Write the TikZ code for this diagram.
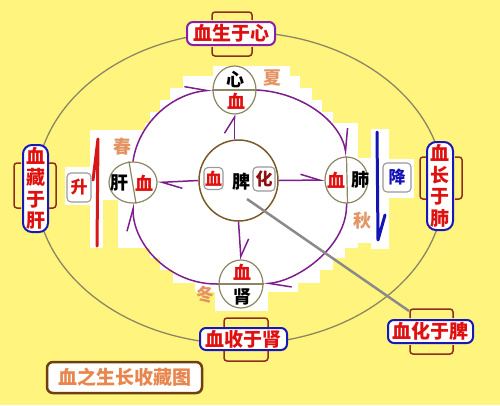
\documentclass[tikz,border=0pt]{standalone}
\usepackage{fontspec}
\newfontfamily\cjk{Noto Sans CJK SC}
\usetikzlibrary{arrows.meta,shapes.geometric,calc}
\definecolor{bgy}{HTML}{FFF57E}
\definecolor{xred}{HTML}{E01010}
\definecolor{pur}{HTML}{7E1E8E}
\definecolor{olive}{HTML}{8C8662}
\definecolor{season}{HTML}{E39462}
\definecolor{brk}{HTML}{8E2E1E}
\definecolor{bblue}{HTML}{1818B8}
\definecolor{bpur}{HTML}{8A20A8}
\definecolor{ttl}{HTML}{E8864E}
\definecolor{ttlb}{HTML}{6E4010}
\definecolor{huac}{HTML}{8E1010}
\definecolor{spl}{HTML}{7A5A2A}
\definecolor{gline}{HTML}{8A8A8A}
\definecolor{rarrow}{HTML}{D81818}
\definecolor{barrow}{HTML}{1414B4}
\begin{document}
\begin{tikzpicture}[x=1pt,y=-1pt,
  big/.style={font=\cjk\bfseries\fontsize{19}{21.5}\selectfont, text=xred},
  mid/.style={font=\cjk\bfseries\fontsize{18}{20}\selectfont, inner sep=0pt},
  sml/.style={font=\cjk\bfseries\fontsize{17}{19}\selectfont, inner sep=0pt},
  hb/.style={big, draw=bblue, line width=2pt, fill=white, rounded corners=6pt, inner sep=0pt},
  vb/.style={hb, rounded corners=9pt, align=center},
  gb/.style={sml, draw=gray!80, line width=1.1pt, fill=white, rounded corners=4pt},
  brkt/.style={draw=brk, line width=1.5pt, rounded corners=3pt},
  organ/.style={ellipse, draw=olive, line width=1.2pt, fill=white, inner sep=0pt},
  divl/.style={draw=olive, line width=1.2pt},
  conn/.style={draw=pur, line width=1.5pt},
  arr/.style 2 args={-{Straight Barb[left,length=#1,width=#2]}},
  seas/.style={mid, text=season},
  thick arrow/.style={line width=3pt, line cap=round, line join=round}
]
\useasboundingbox (0,0) rectangle (500,405);
\fill[bgy] (0,0) rectangle (500,405);
% white stepped region
\fill[white] (213,66) rectangle (290,76);
\fill[white] (183,76) rectangle (300,88);
\fill[white] (170,88) rectangle (312,100);
\fill[white] (160,100) rectangle (322,112);
\fill[white] (150,112) rectangle (333,123);
\fill[white] (145,123) rectangle (358,130);
\fill[white] (90,130) rectangle (358,200);
\fill[white] (65,167) rectangle (90,205);
\fill[white] (90,200) rectangle (103,248);
\fill[white] (118,200) rectangle (358,248);
\fill[white] (358,158) rectangle (372,243);
\fill[white] (371,129) rectangle (389,249);
\fill[white] (386,159) rectangle (414,198);
\fill[white] (150,248) rectangle (345,258);
\fill[white] (160,258) rectangle (333,270);
\fill[white] (173,270) rectangle (320,283);
\fill[white] (195,283) rectangle (298,292);
\fill[white] (215,292) rectangle (268,311);
% outer ellipse
\draw[olive, line width=1.3pt] (240,188) ellipse [x radius=204pt, y radius=156pt];
% organ circles
\node[organ, minimum width=43pt, minimum height=48pt] (xin) at (234.5,90) {};
\node[organ, minimum width=48pt, minimum height=41pt] (gan) at (133,182.5) {};
\node[organ, minimum width=43pt, minimum height=46pt] (fei) at (346.5,180) {};
\node[organ, minimum width=44pt, minimum height=48pt] (shen) at (241,284) {};
\node[organ, draw=spl, line width=1.5pt, minimum width=79pt, minimum height=81pt] (pi) at (238.5,180.5) {};
% dividing lines
\draw[divl] (xin.west) -- (xin.east);
\draw[divl] (shen.west) -- (shen.east);
\draw[divl] ($(gan.north)+(-4,0)$) -- ($(gan.south)+(3,0)$);
\draw[divl] (fei.north) -- ($(fei.south)+(1,0)$);
% organ texts
\node[mid] (t-xin) at (235,79.5) {心};
\node[mid, text=xred] (t-xinx) at (236,101.5) {血};
\node[mid] (t-gan) at (119,183) {肝};
\node[mid, text=xred] (t-ganx) at (144.5,183) {血};
\node[mid, text=xred] (t-feix) at (336,180) {血};
\node[mid] (t-fei) at (360,180) {肺};
\node[mid, text=xred] (t-shenx) at (242,272) {血};
\node[mid] (t-shen) at (242,296.5) {肾};
\node[gb, text=xred, minimum width=19pt, minimum height=22pt] (pix) at (213.5,178.5) {血};
\node[mid] (t-pi) at (241,182) {脾};
\node[gb, text=huac, minimum width=22pt, minimum height=24pt] (pihua) at (264,179) {化};
% seasons
\node[seas] (xia) at (272,78) {夏};
\node[seas] (chun) at (122,147) {春};
\node[seas] (qiu) at (362,221) {秋};
\node[seas] (dong) at (205,295) {冬};
% cycle connectors
\draw[conn, arr={22pt}{12pt}] (gan.north) .. controls (138,125) and (170,94) .. (xin.west);
\draw[conn, arr={22pt}{12pt}] (xin.east) .. controls (300,92) and (340,120) .. (fei.north);
\draw[conn, arr={22pt}{12pt}] (fei.south) .. controls (348,245) and (300,280) .. (shen.east);
\draw[conn, arr={22pt}{12pt}] (shen.west) .. controls (170,285) and (133,245) .. (gan.south);
% spleen connectors
\draw[conn, arr={16pt}{20pt}] (pi.north -| xin.south) -- (xin.south);
\draw[conn, arr={19pt}{12pt}] (pi.east) -- (fei.west);
\draw[conn, arr={20pt}{14pt}] (pi.west) -- (gan.east);
\draw[conn, arr={17pt}{18pt}] (pi.south) -- (shen.north);
% raise / descend arrows (shaft, then a one-sided barb)
\coordinate (rb) at (97,246);
\coordinate (rt) at (98,139);
\draw[rarrow, thick arrow] (rb) -- (rt) -- ($(rt)+(-5,41)$);
\coordinate (bt) at (377,132);
\coordinate (bb) at (378,240);
\draw[barrow, thick arrow] (bt) -- (bb) -- ($(bb)+(7,-25)$);
\node[gb, text=xred, minimum width=24pt, minimum height=29pt] (sheng) at (79,187.5) {升};
\node[gb, text=barrow, minimum width=28pt, minimum height=29pt] (jiang) at (397,177.5) {降};
% labelled boxes
\node[hb, draw=bpur, minimum width=88pt, minimum height=23pt] (b1) at (231,33.5) {血生于心};
\draw[brkt] (212,20) |- (252,12) -- (252,20);
\draw[brkt] (212,47) |- (252,56) -- (252,47);
\node[vb, minimum width=25pt, minimum height=87pt] (b2) at (35.5,188.5) {血\\藏\\于\\肝};
\draw[brkt] (21,163) -| (14,208) -- (21,208);
\draw[brkt] (49,163) -| (56,208) -- (49,208);
\node[vb, minimum width=26pt, minimum height=88pt] (b3) at (440,186) {血\\长\\于\\肺};
\draw[brkt] (426,157) -| (420,199) -- (426,199);
\draw[brkt] (455,157) -| (462,199) -- (455,199);
\node[hb, minimum width=87pt, minimum height=22pt] (b4) at (243.5,339) {血收于肾};
\draw[brkt] (224,327) |- (268,318) -- (268,327);
\draw[brkt] (224,351) |- (268,361) -- (268,351);
\coordinate (huatl) at (409,311);
\coordinate (pdot) at (247,199);
\draw[gline, line width=2.5pt] (pdot) -- (huatl);
\node[hb, minimum width=85pt, minimum height=23pt] (b5) at (430.5,331.5) {血化于脾};
\draw[brkt] (410,318) |- (453,309) -- (453,318);
\draw[brkt] (410,345) |- (453,354) -- (453,345);
\node[big, text=ttl, draw=ttlb, line width=2.5pt, fill=white, rounded corners=6pt, inner sep=0pt, minimum width=155pt, minimum height=31pt] (title) at (124.5,377.5) {血之生长收藏图};
\end{tikzpicture}
\end{document}
